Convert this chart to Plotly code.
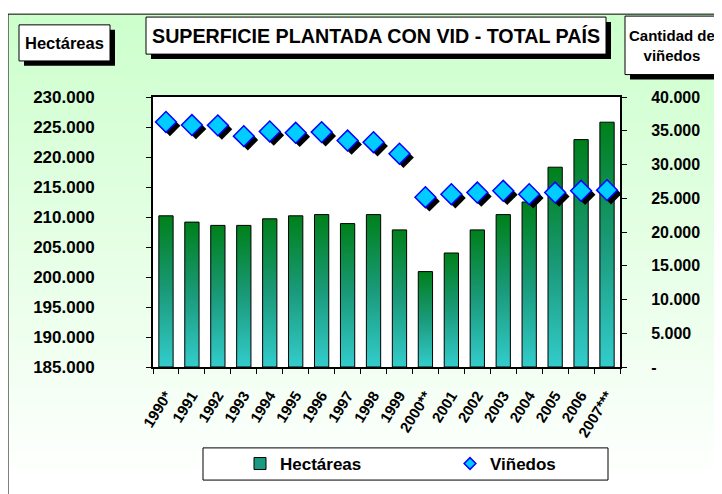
import base64
import struct
import zlib
import plotly.graph_objects as go

# ---------------- data ----------------
years = ["1990*", "1991", "1992", "1993", "1994", "1995", "1996", "1997", "1998",
         "1999", "2000**", "2001", "2002", "2003", "2004", "2005", "2006", "2007***"]
hectareas = [210200, 209150, 208600, 208600, 209700, 210200, 210400, 208900, 210400,
             207850, 200900, 204000, 207850, 210400, 212500, 218300, 222900, 225800]
vinedos = [36300, 35850, 35800, 34200, 34900, 34700, 34800, 33550, 33300,
           31600, 25150, 25600, 25850, 26100, 25600, 25850, 26100, 26200]
ha_ticks = [185000, 190000, 195000, 200000, 205000, 210000, 215000, 220000, 225000, 230000]
vin_ticks = [0, 5000, 10000, 15000, 20000, 25000, 30000, 35000, 40000]

TITLE = "SUPERFICIE PLANTADA CON VID - TOTAL PAÍS"
LEFT_TITLE = "Hectáreas"
RIGHT_TITLE = "Cantidad de<br>viñedos"

# ---------------- layout constants ----------------
PAGE_W, PAGE_H = 722, 494
OFF = 8                       # default body margin of the html page
W, H = PAGE_W - OFF, PAGE_H - OFF
# plot area in page pixels
P_LEFT, P_RIGHT, P_TOP, P_BOTTOM = 153, 620, 97, 374
ML, MR = P_LEFT - OFF, W - (P_RIGHT - OFF)
MT, MB = P_TOP - OFF, H - (P_BOTTOM - OFF)
PW, PH = W - ML - MR, H - MT - MB
FONT = "Liberation Sans, Arial, sans-serif"
BAR_W = 0.55
X_RANGE = [-0.5, len(years) - 0.5]


def px2x(px):  # page pixel -> paper x
    return (px - P_LEFT) / PW


def px2y(py):  # page pixel -> paper y
    return (P_BOTTOM - py) / PH


def fmt(v):
    return "-" if v == 0 else f"{v:,}".replace(",", ".")


def gradient_png(top, bottom, n=256):
    rows = []
    for i in range(n):
        t = i / (n - 1)
        c = bytes(int(round(top[k] + (bottom[k] - top[k]) * t)) for k in range(3))
        rows.append(b"\x00" + c)
    raw = b"".join(rows)

    def chunk(tag, data):
        return (struct.pack(">I", len(data)) + tag + data +
                struct.pack(">I", zlib.crc32(tag + data) & 0xffffffff))
    png = (b"\x89PNG\r\n\x1a\n" +
           chunk(b"IHDR", struct.pack(">IIBBBBB", 1, n, 8, 2, 0, 0, 0)) +
           chunk(b"IDAT", zlib.compress(raw)) +
           chunk(b"IEND", b""))
    return "data:image/png;base64," + base64.b64encode(png).decode()


fig = go.Figure()

# legend-only entry for the bars
fig.add_trace(go.Bar(
    x=[None], y=[None], name="Hectáreas",
    marker=dict(color="#1a9a80", line=dict(color="black", width=1)),
))

y0 = ha_ticks[0]
for i, v in enumerate(hectareas):
    x0, x1 = i - BAR_W / 2, i + BAR_W / 2
    fig.add_trace(go.Scatter(
        x=[x0, x0, x1, x1, x0], y=[y0, v, v, y0, y0],
        mode="lines", fill="toself",
        fillgradient=dict(type="vertical",
                          colorscale=[[0, "#33cccc"], [0.5, "#1a9a7a"], [1, "#00801a"]]),
        line=dict(color="black", width=1),
        showlegend=False, hoverinfo="skip",
    ))

# diamond shadows (offset of a few pixels)
dx = 4 * (X_RANGE[1] - X_RANGE[0]) / PW
dy = 4 * (vin_ticks[-1] - vin_ticks[0]) / PH
fig.add_trace(go.Scatter(
    x=[i + dx for i in range(len(years))], y=[v - dy for v in vinedos],
    yaxis="y2", mode="markers", showlegend=False, hoverinfo="skip",
    marker=dict(symbol="diamond", size=16, color="black", line=dict(width=0)),
))
fig.add_trace(go.Scatter(
    x=list(range(len(years))), y=vinedos, yaxis="y2", mode="markers", name="Viñedos",
    showlegend=False,
    marker=dict(symbol="diamond", size=16, color="#00ccff",
                line=dict(color="#0000ff", width=1.5)),
))
# small legend entry for the diamonds
fig.add_trace(go.Scatter(
    x=[None], y=[None], yaxis="y2", mode="markers", name="Viñedos",
    marker=dict(symbol="diamond", size=9, color="#00ccff",
                line=dict(color="#0000ff", width=1.5)),
))

axis_common = dict(showline=True, linecolor="black", linewidth=2, showgrid=False,
                   zeroline=False, ticks="outside", ticklen=5, tickcolor="black")

fig.update_layout(
    width=W, height=H,
    margin=dict(l=ML, r=MR, t=MT, b=MB, pad=0),
    paper_bgcolor="white", plot_bgcolor="rgba(0,0,0,0)",
    font=dict(family=FONT, color="black"),
    showlegend=True,
    xaxis=dict(
        range=X_RANGE, tickvals=list(range(len(years))), ticktext=years,
        showline=True, linecolor="black", linewidth=2, mirror=True,
        showgrid=False, zeroline=False, ticks="", tickangle=-58,
        ticklabelstandoff=12,
        tickfont=dict(size=15, weight="bold"),
        minor=dict(tickvals=[i - 0.5 for i in range(len(years) + 1)],
                   ticks="outside", ticklen=5, tickcolor="black", showgrid=False),
    ),
    yaxis=dict(range=[ha_ticks[0], ha_ticks[-1]], tickvals=ha_ticks,
               ticktext=[fmt(v) for v in ha_ticks], mirror=True,
               ticklabelstandoff=48, tickfont=dict(size=17, weight="bold"),
               **axis_common),
    yaxis2=dict(range=[vin_ticks[0], vin_ticks[-1]], tickvals=vin_ticks,
                ticktext=[fmt(v) for v in vin_ticks], overlaying="y", side="right",
                ticklabelstandoff=21, tickfont=dict(size=16, weight="bold"),
                **axis_common),
    legend=dict(orientation="h", x=px2x(240), xanchor="left",
                y=px2y(473.5), yanchor="middle",
                bgcolor="rgba(0,0,0,0)", borderwidth=0,
                font=dict(size=17, weight="bold"),
                entrywidth=165, entrywidthmode="pixels", itemsizing="trace"),
)

# background gradient
fig.add_layout_image(dict(
    source=gradient_png((204, 255, 204), (255, 255, 255)),
    xref="paper", yref="paper", x=px2x(8), y=px2y(12),
    sizex=(PAGE_W - 8) / PW, sizey=(PAGE_H - 12) / PH,
    xanchor="left", yanchor="top", sizing="stretch", layer="below",
))


def rect(x0, y0, x1, y1, fill, line_w=1, layer="below"):
    fig.add_shape(type="rect", xref="paper", yref="paper",
                  x0=px2x(x0), x1=px2x(x1), y0=px2y(y1), y1=px2y(y0),
                  fillcolor=fill, line=dict(color="black", width=line_w), layer=layer)


# outer frame and white plot area
rect(8, 12, PAGE_W + 20, PAGE_H + 20, "rgba(0,0,0,0)")
fig.add_shape(type="rect", xref="paper", yref="paper", x0=0, x1=1, y0=0, y1=1,
              fillcolor="white", line=dict(width=0), layer="below")

# title boxes with shadows
boxes = [
    ((19, 23, 110, 60), LEFT_TITLE, 16.5),
    ((146, 15, 606, 53), TITLE, 19.7),
    ((625, 14, 727, 74), RIGHT_TITLE, 15),
]
for (bx0, by0, bx1, by1), txt, fs in boxes:
    rect(bx0 + 5, by0 + 5, bx1 + 5, by1 + 5, "black", 0, "above")
    rect(bx0, by0, bx1, by1, "white", 1, "above")
    fig.add_annotation(x=px2x((bx0 + min(bx1, 718)) / 2), y=px2y((by0 + by1) / 2),
                       xref="paper", yref="paper", text=txt, showarrow=False,
                       xanchor="center", yanchor="middle",
                       font=dict(size=fs, weight="bold", color="black"))

# legend box
rect(203, 457, 608, 490, "white", 1, "above")

fig.write_html("out.html")
